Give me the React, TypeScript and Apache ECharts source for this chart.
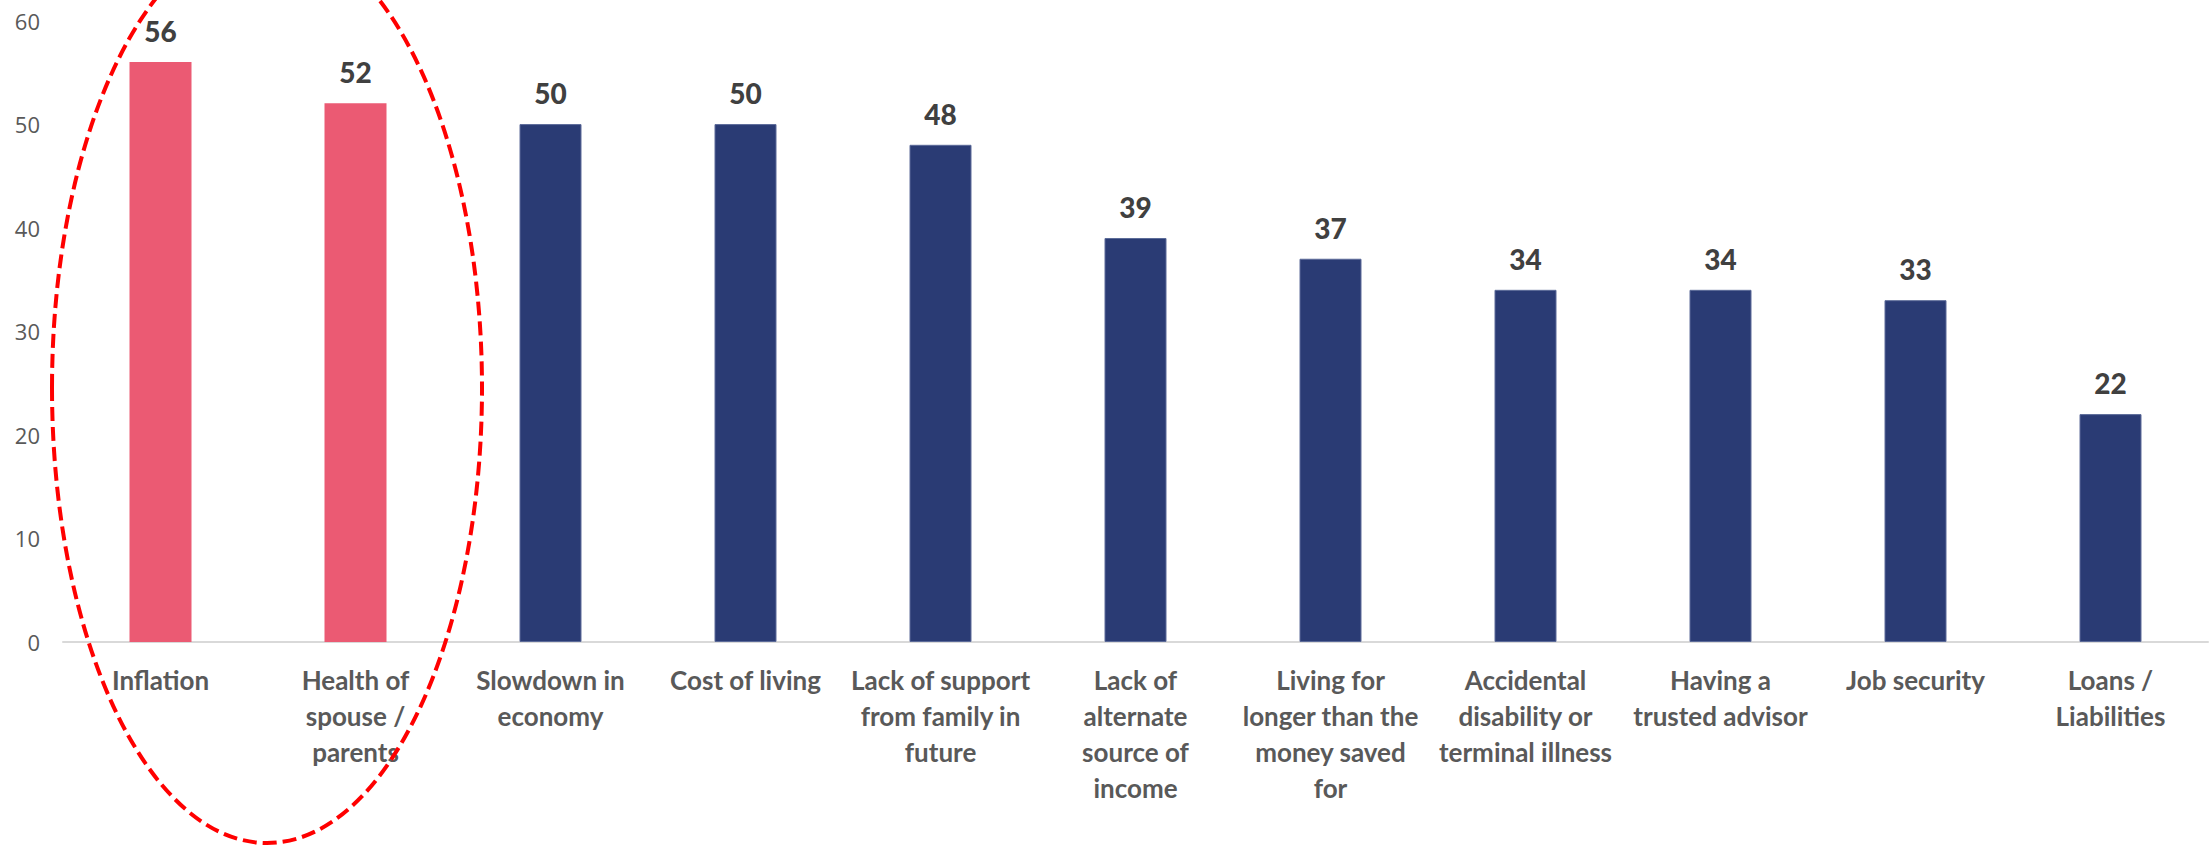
import React, { useEffect, useRef } from "react";
import * as echarts from "echarts";

const categories = [
  "Inflation",
  "Health of\nspouse /\nparents",
  "Slowdown in\neconomy",
  "Cost of living",
  "Lack of support\nfrom family in\nfuture",
  "Lack of\nalternate\nsource of\nincome",
  "Living for\nlonger than the\nmoney saved\nfor",
  "Accidental\ndisability or\nterminal illness",
  "Having a\ntrusted advisor",
  "Job security",
  "Loans /\nLiabilities",
];
const values = [56, 52, 50, 50, 48, 39, 37, 34, 34, 33, 22];
const highlighted = [true, true, false, false, false, false, false, false, false, false, false];

const PINK = "#EB5A73";
const NAVY = "#2A3B74";

export default function App() {
  const ref = useRef<HTMLDivElement>(null);
  useEffect(() => {
    if (!ref.current) return;
    const chart = echarts.init(ref.current, undefined, { renderer: "svg" });
    chart.setOption({
      animation: false,
      backgroundColor: "#ffffff",
      grid: { left: 63, right: 2, top: 20.5, bottom: 204, containLabel: false },
      xAxis: {
        type: "category",
        data: categories,
        axisLine: { lineStyle: { color: "#D9D9D9", width: 2 } },
        axisTick: { show: false },
        axisLabel: {
          interval: 0,
          margin: 20,
          color: "#595959",
          fontFamily: "Lato",
          fontWeight: "bold",
          fontSize: 26,
          lineHeight: 36,
          align: "center",
        },
      },
      yAxis: {
        type: "value",
        min: 0,
        max: 60,
        interval: 10,
        splitLine: { show: false },
        axisLine: { show: false },
        axisTick: { show: false },
        axisLabel: {
          margin: 23,
          color: "#595959",
          fontFamily: "Open Sans",
          fontSize: 22,
        },
      },
      series: [
        {
          type: "bar",
          barWidth: 62,
          data: values.map((v, i) => ({
            value: v,
            itemStyle: highlighted[i]
              ? { color: PINK }
              : { color: NAVY, borderColor: "#5C6B99", borderWidth: 1 },
          })),
          label: {
            show: true,
            position: "top",
            distance: 17,
            color: "#404040",
            fontFamily: "Lato",
            fontWeight: 900,
            fontSize: 28,
          },
        },
      ],
      graphic: [
        {
          type: "ellipse",
          z: 100,
          shape: { cx: 267, cy: 388, rx: 215, ry: 455 },
          style: { fill: "none", stroke: "#FF0000", lineWidth: 4, lineDash: [14, 6] },
          silent: true,
        },
      ],
    });
    return () => chart.dispose();
  }, []);
  return (
    <div
      ref={ref}
      style={{ position: "absolute", left: 0, top: 0, width: 2210, height: 846 }}
    />
  );
}
